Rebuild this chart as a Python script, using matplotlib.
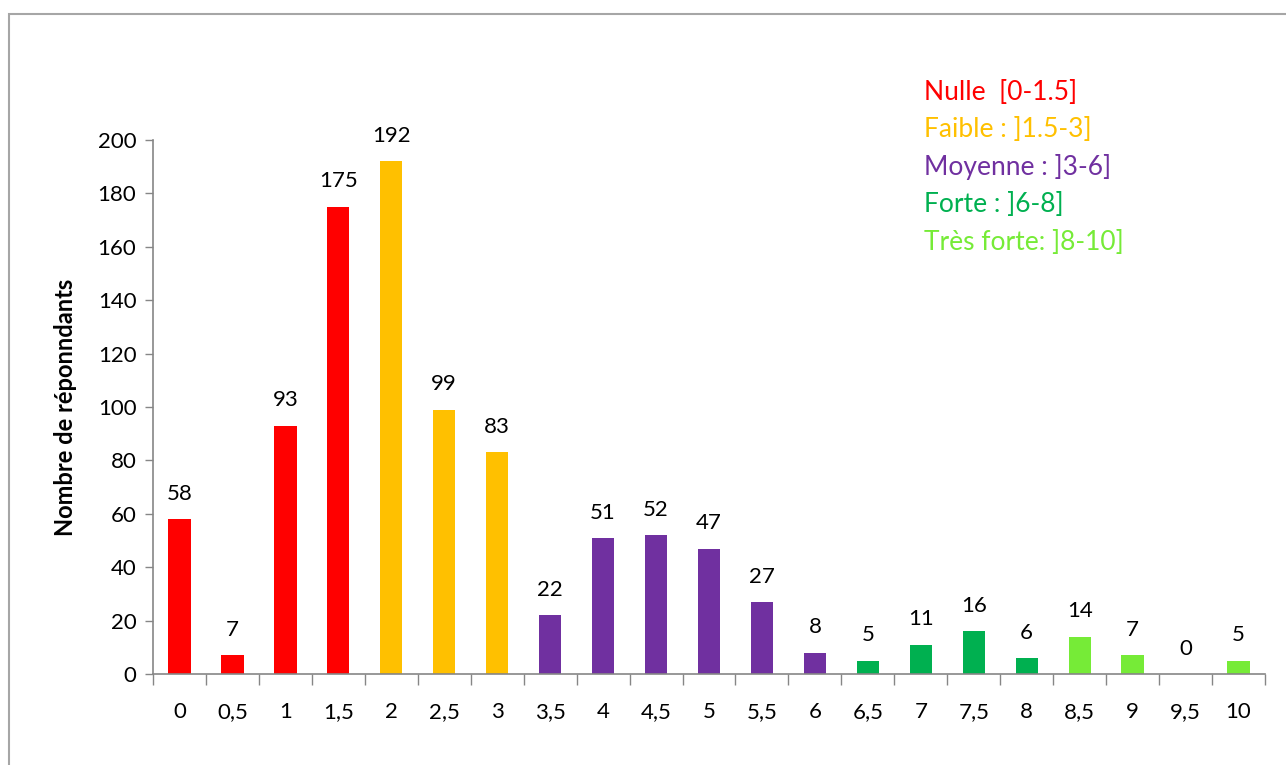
import matplotlib.pyplot as plt
from matplotlib.patches import Rectangle

plt.rcParams['font.family'] = ['Lato', 'DejaVu Sans']

# notes (0 to 10 by 0.5) and number of respondents per note
notes = ['0', '0,5', '1', '1,5', '2', '2,5', '3', '3,5', '4', '4,5', '5',
         '5,5', '6', '6,5', '7', '7,5', '8', '8,5', '9', '9,5', '10']
counts = [58, 7, 93, 175, 192, 99, 83, 22, 51, 52, 47,
          27, 8, 5, 11, 16, 6, 14, 7, 0, 5]
groups = ['nulle'] * 4 + ['faible'] * 3 + ['moyenne'] * 6 + ['forte'] * 4 + ['tres_forte'] * 4

group_colors = {
    'nulle': '#FF0000',
    'faible': '#FFC000',
    'moyenne': '#7030A0',
    'forte': '#00B050',
    'tres_forte': '#76EB37',
}
legend_lines = [
    ('Nulle  [0-1.5]', 'nulle'),
    ('Faible : ]1.5-3]', 'faible'),
    ('Moyenne : ]3-6]', 'moyenne'),
    ('Forte : ]6-8]', 'forte'),
    ('Très forte: ]8-10]', 'tres_forte'),
]

fig = plt.figure(figsize=(12.86, 7.65), dpi=100)
W, H = 1286, 765

# light grey frame around the chart area
fig.patches.append(Rectangle((8.5 / W, -0.01), 1.02, 1 - 13.5 / H + 0.01,
                             transform=fig.transFigure, fill=False,
                             edgecolor='#A6A6A6', linewidth=1.5))

ax = fig.add_axes([153 / W, 1 - 674 / H, (1265 - 153) / W, (674 - 140) / H])

x = list(range(len(notes)))
colors = [group_colors[g] for g in groups]
bars = ax.bar(x, counts, width=0.42, color=colors)

for xi, c in zip(x, counts):
    ax.annotate(str(c), (xi, c), xytext=(0, 11), textcoords='offset points',
                ha='center', va='bottom', fontsize=16, color='black',
                annotation_clip=False)

ax.set_xlim(-0.5, len(notes) - 0.5)
ax.set_ylim(0, 200)
ax.set_yticks(range(0, 201, 20))
ax.tick_params(axis='y', labelsize=16, length=6, width=1, color='#868686', pad=6)

ax.set_xticks(x)
ax.set_xticklabels(notes)
ax.set_xticks([i - 0.5 for i in range(len(notes) + 1)], minor=True)
ax.tick_params(axis='x', which='major', length=0, labelsize=16, pad=20)
ax.tick_params(axis='x', which='minor', length=8, width=1, color='#868686')

for side in ['top', 'right']:
    ax.spines[side].set_visible(False)
for side in ['left', 'bottom']:
    ax.spines[side].set_color('#868686')
    ax.spines[side].set_linewidth(1.2)

ax.set_ylabel('Nombre de réponndants', fontsize=17, fontweight='bold')
ax.yaxis.set_label_coords(-0.068, 0.5)

for i, (label, g) in enumerate(legend_lines):
    fig.text(924 / W, 1 - (92 + 37.5 * i) / H, label, color=group_colors[g],
             fontsize=19, ha='left', va='center')

fig.savefig('out.png', dpi=100)
